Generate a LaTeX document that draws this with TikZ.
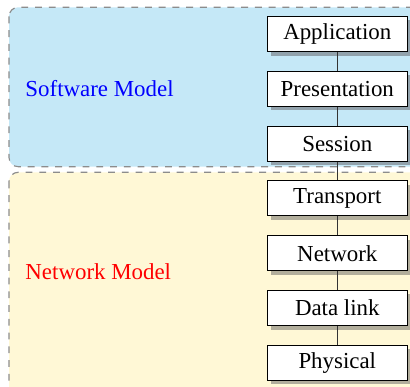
\documentclass[tikz,border=0pt]{standalone}
\usepackage{fontspec}
\setmainfont{Liberation Serif}
\definecolor{swblue}{RGB}{197,232,247}
\definecolor{nwyellow}{RGB}{255,248,214}
\definecolor{shadowblue}{RGB}{146,162,172}
\definecolor{shadowyellow}{RGB}{178,174,156}
\begin{document}
\begin{tikzpicture}[x=0.4367pt,y=-0.4367pt,
  region/.style={draw=black!45, dashed, line width=0.5pt, rounded corners=4pt},
  layerbox/.style={draw=black, fill=white, line width=0.5pt, inner sep=0pt,
    minimum width=61.1pt, minimum height=15.3pt},
  modellabel/.style={anchor=west, inner sep=0pt},
  link/.style={draw=black!80, line width=0.5pt}]
\clip (0,0) rectangle (410,387);
\draw[region, fill=swblue] (9,7.3) rectangle (440,166.7);
\draw[region, fill=nwyellow] (9,172.3) rectangle (440,430);
\foreach \c in {34,88.8,143.6}{
  \fill[shadowblue] (271.3,\c-13.5) rectangle (412,\c+21.7);
}
\foreach \c in {198.4,253.2,308,362.8}{
  \fill[shadowyellow] (271.3,\c-13.5) rectangle (412,\c+21.7);
}
\node[modellabel, text=blue] (sw) at (25,89) {Software Model};
\node[modellabel, text=red] (nw) at (25,272) {Network Model};
\node[layerbox] (app) at (337.3,34) {Application};
\node[layerbox] (pre) at (337.3,88.8) {Presentation};
\node[layerbox] (ses) at (337.3,143.6) {Session};
\node[layerbox] (tra) at (337.3,198.4) {Transport};
\node[layerbox] (net) at (337.3,253.2) {Network};
\node[layerbox] (dat) at (337.3,308) {Data link};
\node[layerbox] (phy) at (337.3,362.8) {Physical};
\draw[link] (app) -- (pre);
\draw[link] (pre) -- (ses);
\draw[link] (ses) -- (tra);
\draw[link] (tra) -- (net);
\draw[link] (net) -- (dat);
\draw[link] (dat) -- (phy);
\end{tikzpicture}
\end{document}
